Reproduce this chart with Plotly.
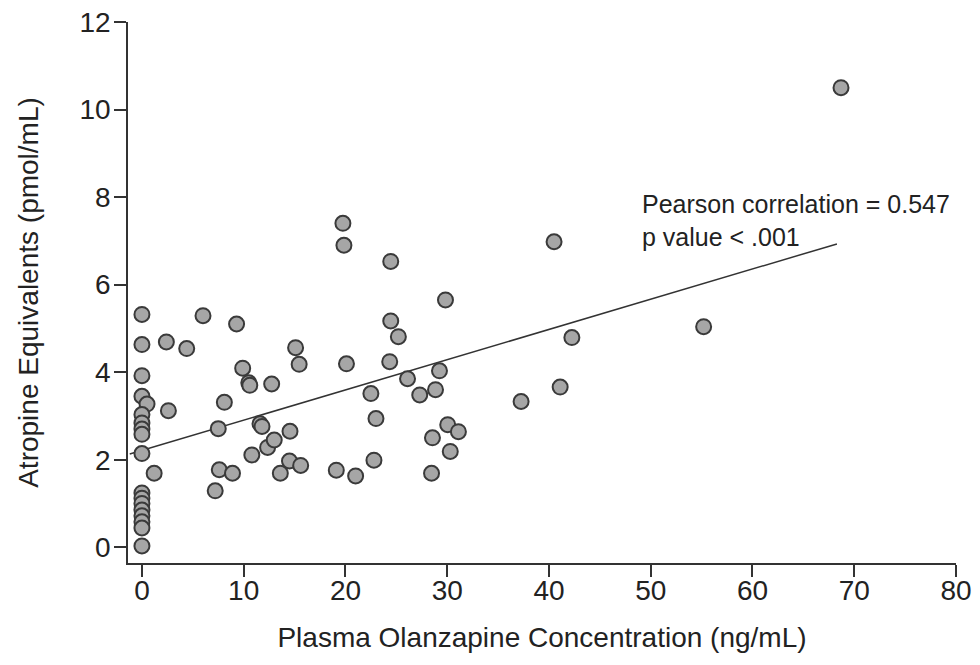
import plotly.graph_objects as go

# =============================
# Données
# =============================

olanzapine = [
    0.0, 0.0, 0.0, 0.0, 0.5, 0.0, 0.0, 0.0, 0.0, 0.0,
    1.2, 0.0, 0.0, 0.0, 0.0, 0.0, 0.0, 0.0, 0.0,
    2.4, 2.6, 4.4, 6.0, 7.2, 7.5, 7.6, 8.1, 8.9, 9.3, 9.9,
    10.5, 10.6, 10.8, 11.6, 11.8, 12.35, 12.75, 13.0, 13.6, 14.55,
    14.5, 15.1, 15.45, 15.6, 19.1, 19.75, 19.85, 20.1, 21.0, 22.5,
    22.8, 23.0, 24.35, 24.45, 24.45, 25.2, 26.1, 27.3, 28.46, 28.55,
    28.85, 29.24, 29.83, 30.05, 30.3, 31.1, 37.26, 40.5, 41.1, 42.25,
    55.2, 68.7,
]

atropine = [
    5.32, 4.63, 3.92, 3.45, 3.27, 3.03, 2.84, 2.70, 2.58, 2.14,
    1.69, 1.24, 1.12, 1.00, 0.85, 0.72, 0.58, 0.44, 0.03,
    4.69, 3.12, 4.54, 5.29, 1.29, 2.71, 1.77, 3.31, 1.69, 5.10, 4.09,
    3.76, 3.70, 2.11, 2.82, 2.76, 2.28, 3.73, 2.45, 1.69, 2.65,
    1.97, 4.56, 4.18, 1.87, 1.76, 7.40, 6.90, 4.19, 1.63, 3.51,
    1.99, 2.94, 4.24, 5.17, 6.53, 4.81, 3.85, 3.48, 1.69, 2.50,
    3.60, 4.03, 5.65, 2.80, 2.19, 2.64, 3.33, 6.98, 3.66, 4.79,
    5.04, 10.50,
]

# droite de régression (extrémités lues)
fit_x = [-1.2, 68.3]
fit_y = [2.13, 6.93]

x_ticks = [0, 10, 20, 30, 40, 50, 60, 70, 80]
y_ticks = [0, 2, 4, 6, 8, 10, 12]

FONT = "Liberation Sans, Arial, sans-serif"
TEXT = "#222222"

# =============================
# Graphique
# =============================

fig = go.Figure()

fig.add_trace(go.Scatter(
    x=fit_x, y=fit_y,
    mode="lines",
    line=dict(color="#333333", width=1.5),
    hoverinfo="skip",
))

fig.add_trace(go.Scatter(
    x=olanzapine, y=atropine,
    mode="markers",
    marker=dict(size=15, color="#a6a6a6",
                line=dict(color="#3a3a3a", width=2)),
))

fig.add_annotation(
    text="Pearson correlation = 0.547<br>p value < .001",
    x=48.9, y=7.46,
    xref="x", yref="y",
    xanchor="left", yanchor="middle",
    align="left",
    showarrow=False,
    font=dict(size=25, color=TEXT, family=FONT),
)

axis_common = dict(
    showgrid=False,
    zeroline=False,
    showline=True,
    automargin=False,
    linecolor="#333333",
    linewidth=1.5,
    ticks="outside",
    ticklen=12,
    tickwidth=1.5,
    tickcolor="#333333",
    ticklabeloverflow="allow",
    tickfont=dict(size=28, color=TEXT, family=FONT),
)

# la page ajoute une marge de 8 px : on compense
fig.update_layout(
    width=980, height=665,
    margin=dict(l=120, r=32, t=14, b=110),
    paper_bgcolor="white",
    plot_bgcolor="white",
    showlegend=False,
    font=dict(family=FONT, color=TEXT),
    xaxis=dict(
        range=[-1.37, 80],
        tickvals=x_ticks,
        ticklabelstandoff=-10,
        title=dict(text="Plasma Olanzapine Concentration (ng/mL)",
                   font=dict(size=28, color=TEXT, family=FONT),
                   standoff=22),
        **axis_common,
    ),
    yaxis=dict(
        range=[-0.36, 12],
        tickvals=y_ticks,
        ticklabelstandoff=-2,
        title=dict(text="Atropine Equivalents (pmol/mL)",
                   font=dict(size=28, color=TEXT, family=FONT),
                   standoff=33),
        **axis_common,
    ),
)

fig.write_html("out.html")
